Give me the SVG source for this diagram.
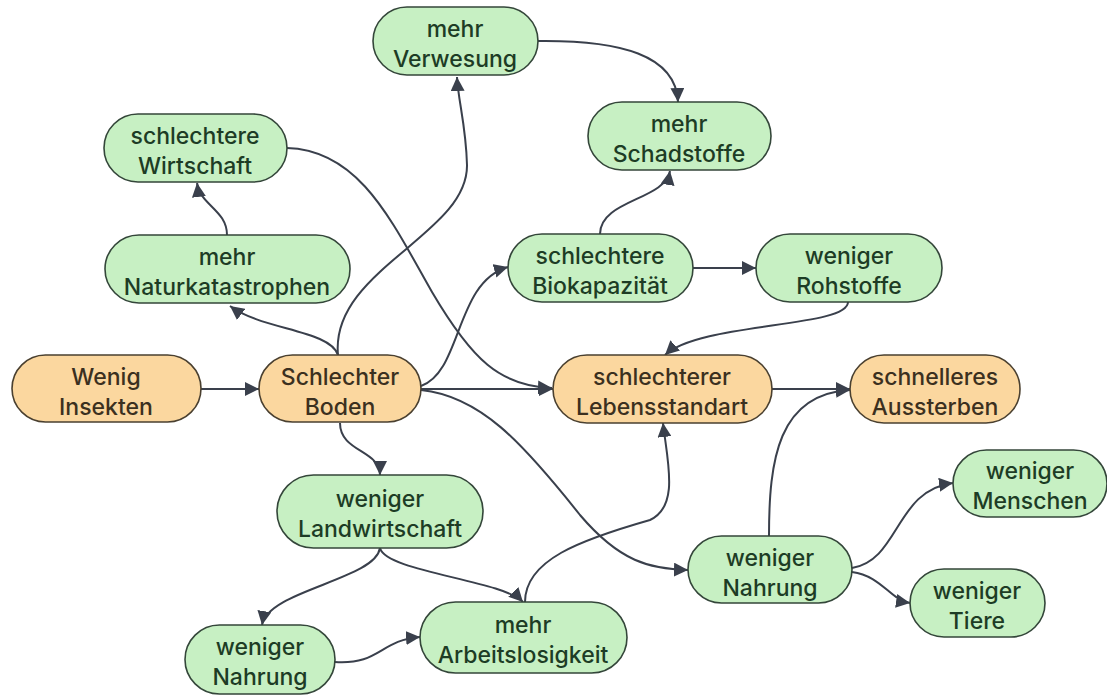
<svg xmlns="http://www.w3.org/2000/svg" width="1107" height="695" viewBox="0 0 1107 695">
<style>
.g rect{fill:#c7f0c3;stroke:#34463a;stroke-width:1.6}
.o rect{fill:#fbd79f;stroke:#4a4030;stroke-width:1.6}
text{font-family:Inter,"Noto Sans","Liberation Sans",sans-serif;font-size:23px;font-weight:500;text-anchor:middle}
.g text{fill:#1d3c25}
.o text{fill:#3b3020}
#edges path{fill:none;stroke:#3a404c;stroke-width:2;marker-end:url(#ah)}
</style>
<defs>
<marker id="ah" markerUnits="userSpaceOnUse" markerWidth="16" markerHeight="14" refX="14" refY="7" orient="auto">
<path d="M0,0 L14,7 L0,14 Z" fill="#3a404c"/>
</marker>
</defs>
<rect width="1107" height="695" fill="#ffffff"/>
<g id="edges">
<path d="M201,389 L259,389"/>
<path d="M338,355 C330,330 262,330 230,306"/>
<path d="M227,235 C227,210 200,205 197,183"/>
<path d="M338,355 C330,270 468,235 467,165 C466,125 458,100 457,77"/>
<path d="M538,41 C620,40 676,55 678,102"/>
<path d="M600,234 C600,200 665,200 670,171"/>
<path d="M693,268 L756,268"/>
<path d="M848,302 C848,328 700,322 665,355"/>
<path d="M421,386 C462,372 455,282 508,267"/>
<path d="M421,389 L553,389"/>
<path d="M287,148 C360,150 392,222 432,292 C472,360 500,386 552,388"/>
<path d="M772,389 L850,389"/>
<path d="M769,536 C769,460 778,394 850,390"/>
<path d="M421,390 C480,396 522,442 580,515 C620,562 650,569 688,570"/>
<path d="M340,423 C340,452 380,450 380,475"/>
<path d="M380,548 C375,580 268,590 262,625"/>
<path d="M380,548 C386,572 502,580 523,602"/>
<path d="M335,662 C380,665 380,640 420,637"/>
<path d="M525,602 C525,560 580,540 650,520 C680,506 667,460 663,423"/>
<path d="M852,568 C900,560 895,490 953,483"/>
<path d="M852,572 C882,576 890,600 910,603"/>
</g>
<g id="n-insekten" class="o"><rect x="12" y="355" width="189" height="67" rx="33.5"/><text x="106" y="385">Wenig</text><text x="106" y="415">Insekten</text></g>
<g id="n-boden" class="o"><rect x="259" y="355" width="162" height="67" rx="33.5"/><text x="340" y="385">Schlechter</text><text x="340" y="415">Boden</text></g>
<g id="n-verwesung" class="g"><rect x="373" y="7" width="165" height="68" rx="34"/><text x="455" y="37">mehr</text><text x="455" y="67">Verwesung</text></g>
<g id="n-schadstoffe" class="g"><rect x="588" y="102" width="183" height="68" rx="34"/><text x="679" y="132">mehr</text><text x="679" y="162">Schadstoffe</text></g>
<g id="n-wirtschaft" class="g"><rect x="104" y="114" width="183" height="68" rx="34"/><text x="195" y="144">schlechtere</text><text x="195" y="174">Wirtschaft</text></g>
<g id="n-natur" class="g"><rect x="105" y="235" width="245" height="68" rx="34"/><text x="227" y="265">mehr</text><text x="227" y="295">Naturkatastrophen</text></g>
<g id="n-bio" class="g"><rect x="508" y="234" width="185" height="68" rx="34"/><text x="600" y="264">schlechtere</text><text x="600" y="294">Biokapazität</text></g>
<g id="n-roh" class="g"><rect x="756" y="234" width="186" height="68" rx="34"/><text x="849" y="264">weniger</text><text x="849" y="294">Rohstoffe</text></g>
<g id="n-leben" class="o"><rect x="553" y="355" width="219" height="68" rx="34"/><text x="662" y="385">schlechterer</text><text x="662" y="415">Lebensstandart</text></g>
<g id="n-aussterben" class="o"><rect x="850" y="355" width="170" height="68" rx="34"/><text x="935" y="385">schnelleres</text><text x="935" y="415">Aussterben</text></g>
<g id="n-menschen" class="g"><rect x="953" y="450" width="154" height="67" rx="33.5"/><text x="1030" y="479">weniger</text><text x="1030" y="509">Menschen</text></g>
<g id="n-nahrung2" class="g"><rect x="688" y="536" width="164" height="67" rx="33.5"/><text x="770" y="566">weniger</text><text x="770" y="596">Nahrung</text></g>
<g id="n-tiere" class="g"><rect x="910" y="569" width="135" height="68" rx="34"/><text x="977" y="599">weniger</text><text x="977" y="629">Tiere</text></g>
<g id="n-land" class="g"><rect x="277" y="475" width="206" height="73" rx="36.5"/><text x="380" y="507">weniger</text><text x="380" y="537">Landwirtschaft</text></g>
<g id="n-nahrung1" class="g"><rect x="185" y="625" width="150" height="69" rx="34.5"/><text x="260" y="655">weniger</text><text x="260" y="685">Nahrung</text></g>
<g id="n-arbeit" class="g"><rect x="420" y="602" width="207" height="71" rx="35.5"/><text x="523" y="633">mehr</text><text x="523" y="663">Arbeitslosigkeit</text></g>
</svg>
